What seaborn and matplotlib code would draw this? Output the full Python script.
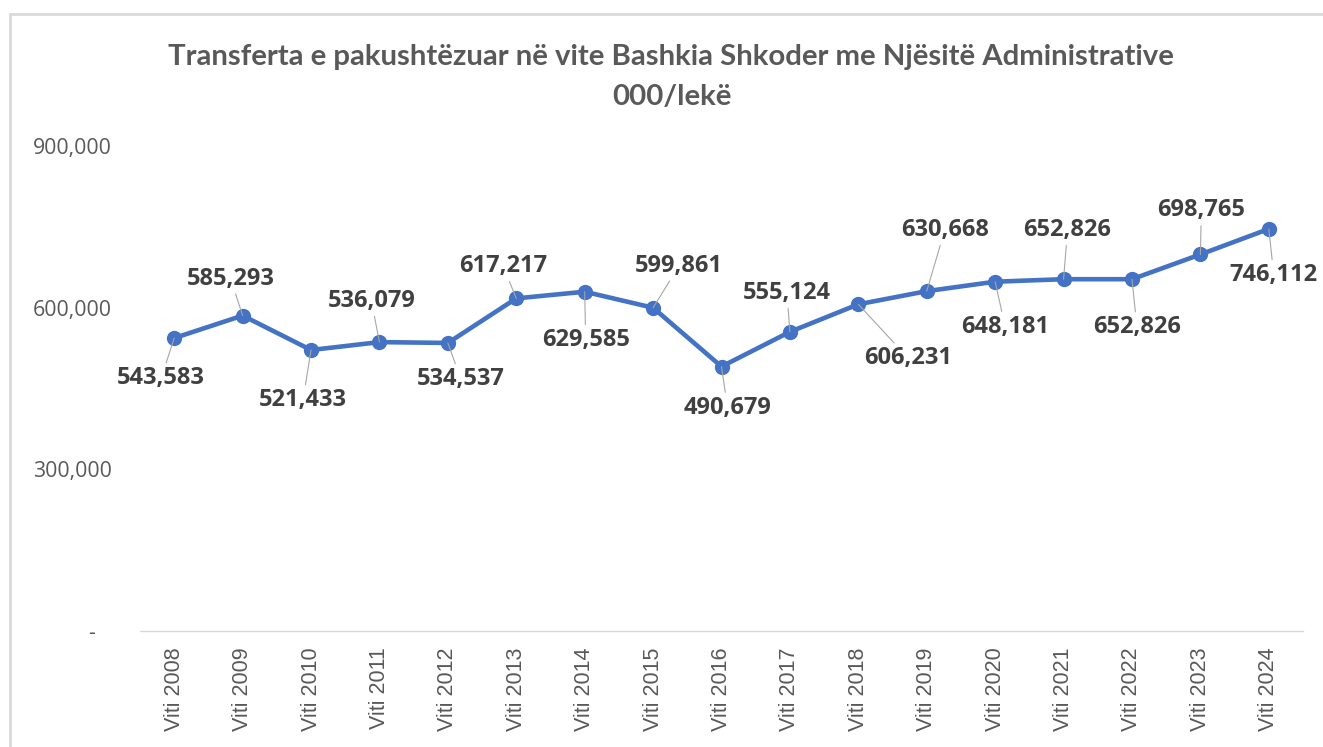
import pandas as pd
import seaborn as sns
import matplotlib.pyplot as plt
from matplotlib.lines import Line2D

# data (000/lekë)
years = ['Viti 2008', 'Viti 2009', 'Viti 2010', 'Viti 2011', 'Viti 2012', 'Viti 2013',
         'Viti 2014', 'Viti 2015', 'Viti 2016', 'Viti 2017', 'Viti 2018', 'Viti 2019',
         'Viti 2020', 'Viti 2021', 'Viti 2022', 'Viti 2023', 'Viti 2024']
values = [543583, 585293, 521433, 536079, 534537, 617217, 629585, 599861, 490679,
          555124, 606231, 630668, 648181, 652826, 652826, 698765, 746112]
y_ticks = [0, 300000, 600000, 900000]
y_ticklabels = ['-   ', '300,000', '600,000', '900,000']

# label offsets in pixels (Excel style label placement)
label_dx = [-13, -12, -8, -8, 13, -13, 1, 26, 6, -3, 50, 18, 10, 4, 5, 1, 5]
label_dy = [-40, 37, -50, 41, -36, 32, -48, 42, -41, 39, -54, 61, -45, 49, -48, 44, -46]

df = pd.DataFrame({'year': years, 'value': values})

sns.set_theme(style="white")
plt.rcParams['font.family'] = ['Open Sans', 'DejaVu Sans']

fig = plt.figure(figsize=(13.23, 7.47), dpi=100)
ax = fig.add_axes([140 / 1323, 116 / 747, 1163 / 1323, 485 / 747])

blue = '#4472C4'
sns.lineplot(data=df, x='year', y='value', sort=False, ax=ax, color=blue,
             linewidth=3.3, marker='o', markersize=11, markeredgewidth=0)

for i, (v, dx, dy) in enumerate(zip(values, label_dx, label_dy)):
    ax.annotate(f'{v:,}', xy=(i, v), xytext=(dx, dy), textcoords='offset pixels',
                ha='center', va='center', fontsize=17, fontweight='bold',
                color='#404040',
                arrowprops=dict(arrowstyle='-', color='#a6a6a6', lw=0.8,
                                shrinkA=0, shrinkB=0))

ax.set_xlim(-0.5, len(years) - 0.5)
ax.set_ylim(0, 900000)
ax.set_yticks(y_ticks)
ax.set_yticklabels(y_ticklabels, fontsize=15.3, color='#595959')
ax.tick_params(axis='y', length=0, pad=20)
ax.tick_params(axis='x', length=0, pad=12)
for lab in ax.get_xticklabels():
    lab.set_rotation(90)
    lab.set_fontsize(15.5)
    lab.set_color('#595959')
    lab.set_family(['Liberation Sans', 'DejaVu Sans'])
ax.set_xlabel('')
ax.set_ylabel('')

for side in ['top', 'right', 'left']:
    ax.spines[side].set_visible(False)
ax.spines['bottom'].set_color('#d9d9d9')
ax.spines['bottom'].set_linewidth(1)

fig.text(671 / 1323, 1 - 57 / 747,
         'Transferta e pakushtëzuar në vite Bashkia Shkoder me Njësitë Administrative',
         ha='center', va='center', fontsize=21.2, fontweight='bold', color='#595959',
         family=['Lato', 'DejaVu Sans'])
fig.text(672 / 1323, 1 - 97 / 747, '000/lekë',
         ha='center', va='center', fontsize=21.2, fontweight='bold', color='#595959',
         family=['Lato', 'DejaVu Sans'])

# chart frame (partly cropped in the screenshot)
fig.add_artist(Line2D([10 / 1323, 1], [1 - 14 / 747] * 2, transform=fig.transFigure,
                      color='#d9d9d9', lw=2))
fig.add_artist(Line2D([10 / 1323] * 2, [0, 1 - 14 / 747], transform=fig.transFigure,
                      color='#d9d9d9', lw=2))

plt.savefig('out.png', dpi=100)
